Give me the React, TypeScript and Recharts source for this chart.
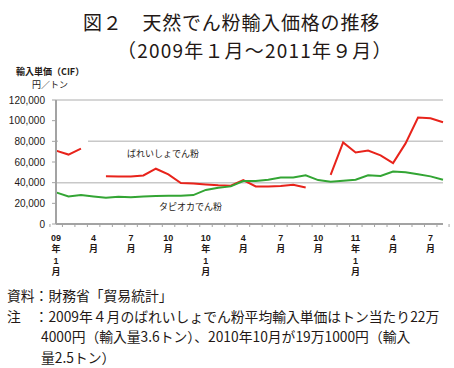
import React from "react";
import { LineChart, Line, XAxis, YAxis, CartesianGrid } from "recharts";

// Jan 2009 .. Aug 2011 (monthly)
const months = [
  "09年1月", "09年2月", "09年3月", "09年4月", "09年5月", "09年6月",
  "09年7月", "09年8月", "09年9月", "09年10月", "09年11月", "09年12月",
  "10年1月", "10年2月", "10年3月", "10年4月", "10年5月", "10年6月",
  "10年7月", "10年8月", "10年9月", "10年10月", "10年11月", "10年12月",
  "11年1月", "11年2月", "11年3月", "11年4月", "11年5月", "11年6月",
  "11年7月", "11年8月",
];

// ばれいしょでん粉 (2009/4 and 2010/10 left out, see note)
const potato = [
  71000, 67200, 73000, null, 46200, 46000, 46000, 47000, 53500, 48000, 39600, 39300,
  38300, 37400, 37000, 42500, 36300, 36400, 36700, 38000, 35400, null, 47500, 79000,
  69200, 71000, 66500, 59000, 78000, 103100, 102400, 98500,
];

// タピオカでん粉
const tapioca = [
  30600, 26700, 28000, 26700, 25400, 26400, 26000, 26700, 27000, 27400, 27400, 28000,
  33000, 35000, 36400, 41500, 41600, 42900, 44900, 44900, 47100, 42500, 41000, 41900,
  42900, 47100, 46400, 50700, 50000, 48100, 46100, 42900,
];

const yTicks = [0, 20000, 40000, 60000, 80000, 100000, 120000];
const labelMonths = [1, 4, 7, 10];

const data = months.map((m, i) => ({ month: m, potato: potato[i], tapioca: tapioca[i] }));

const W = 454;
const LEFT = 56;
const RIGHT = 11;
const STEP = (W - LEFT - RIGHT) / months.length;
const INK = "#231815";
const AXIS = "#a3a3a3";
const JP = "'Noto Sans CJK JP', sans-serif";

const tickText = (m: string) => {
  const [yy, rest] = m.split("年");
  const mm = rest.replace("月", "");
  if (!labelMonths.includes(Number(mm))) return [];
  if (mm === "1") return [yy, "年", mm, "月"];
  return [mm, "月"];
};

const MonthTick = (props: any) => {
  const { x, y, payload } = props;
  const i = props.index ?? payload.index;
  const lines = tickText(payload.value);
  const last = i === months.length - 1;
  return (
    <g>
      <line x1={x - STEP / 2} x2={x - STEP / 2} y1={y} y2={y + 3} stroke={AXIS} strokeWidth={1} />
      {last && <line x1={x + STEP / 2} x2={x + STEP / 2} y1={y} y2={y + 3} stroke={AXIS} strokeWidth={1} />}
      {lines.map((t, k) => (
        <text
          key={k}
          x={x}
          y={y + 16.5 + k * 11.5}
          textAnchor="middle"
          fontSize={9}
          fontWeight="bold"
          fontFamily={"'Liberation Sans', " + JP}
          fill={INK}
        >
          {t}
        </text>
      ))}
    </g>
  );
};

const abs = (s: React.CSSProperties): React.CSSProperties => ({ position: "absolute", whiteSpace: "nowrap", ...s });

export default function App() {
  return (
    <div style={{ position: "absolute", left: 0, top: 0, width: W, height: 368, background: "#fff", fontFamily: JP, color: INK }}>
      <div style={abs({ left: 83, top: 8, fontSize: 19, lineHeight: "28px", letterSpacing: 0.8 })}>図２　天然でん粉輸入価格の推移</div>
      <div style={abs({ left: 117, top: 35.5, fontSize: 19, lineHeight: "28px", letterSpacing: 1.2 })}>（2009年１月～2011年９月）</div>

      <div style={abs({ left: 16, top: 66, fontSize: 9, lineHeight: "12px", fontWeight: "bold" })}>輸入単価（CIF）</div>
      <div style={abs({ left: 32, top: 79, fontSize: 9, lineHeight: "12px" })}>円／トン</div>

      <div style={{ position: "absolute", left: 0, top: 0 }}>
        <LineChart width={W} height={290} data={data} margin={{ top: 100, right: RIGHT, bottom: 0, left: 0 }}>
          <CartesianGrid vertical={false} stroke="#c8c8c8" strokeWidth={1.5} />
          <XAxis
            dataKey="month"
            interval={0}
            height={66}
            tickLine={false}
            tickSize={0}
            tickMargin={0}
            axisLine={{ stroke: AXIS, strokeWidth: 2 }}
            tick={<MonthTick />}
          />
          <YAxis
            width={LEFT}
            domain={[0, 120000]}
            ticks={yTicks}
            tickFormatter={(v: number) => v.toLocaleString("en-US")}
            tick={{ fill: INK, fontSize: 10, fontFamily: "'Liberation Sans', sans-serif" }}
            tickSize={4}
            tickMargin={7}
            tickLine={{ stroke: AXIS }}
            axisLine={{ stroke: AXIS, strokeWidth: 2 }}
          />
          <Line dataKey="potato" stroke="#e8231b" strokeWidth={2} dot={false} type="linear" isAnimationActive={false} />
          <Line dataKey="tapioca" stroke="#33a534" strokeWidth={2} dot={false} type="linear" isAnimationActive={false} />
        </LineChart>
      </div>

      {/* white boxes that break the gridlines behind the series labels */}
      <div style={abs({ left: 58, top: 139, width: 30, height: 6, background: "#fff" })} />
      <div style={abs({ left: 121, top: 146, width: 91, height: 19, background: "#fff" })} />
      <div style={abs({ left: 143, top: 199, width: 90, height: 17, background: "#fff" })} />
      <div style={abs({ left: 127, top: 148, fontSize: 9, lineHeight: "12px" })}>ばれいしょでん粉</div>
      <div style={abs({ left: 159, top: 201, fontSize: 9, lineHeight: "12px" })}>タピオカでん粉</div>

      <div style={abs({ left: 7, top: 285, fontSize: 13.8, lineHeight: "20.7px" })}>資料：財務省「貿易統計」</div>
      <div style={abs({ left: 7, top: 305.7, fontSize: 13.8, lineHeight: "20.7px" })}>注　：2009年４月のばれいしょでん粉平均輸入単価はトン当たり22万</div>
      <div style={abs({ left: 41, top: 326.4, fontSize: 13.8, lineHeight: "20.7px" })}>4000円（輸入量3.6トン）、2010年10月が19万1000円（輸入</div>
      <div style={abs({ left: 41, top: 347.1, fontSize: 13.8, lineHeight: "20.7px" })}>量2.5トン）</div>
    </div>
  );
}
